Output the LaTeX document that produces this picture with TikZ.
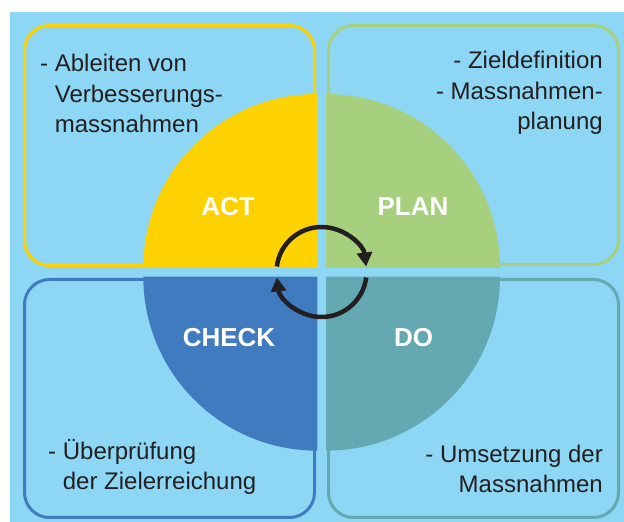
\documentclass[tikz,border=0pt]{standalone}
\usepackage{fontspec}
\setmainfont{Liberation Sans}
\usetikzlibrary{arrows.meta}
\definecolor{bgblue}{HTML}{8DD7F5}
\definecolor{actyellow}{HTML}{FDD200}
\definecolor{plangreen}{HTML}{A6D07E}
\definecolor{checkblue}{HTML}{417BBF}
\definecolor{doteal}{HTML}{64A8B2}
\definecolor{ink}{HTML}{231F20}
\tikzset{
  phase/.style={text=white, font=\fontsize{26}{30}\selectfont\bfseries, inner sep=0pt, anchor=base},
  note/.style={text=ink, font=\fontsize{24}{30.5}\selectfont, inner sep=0pt},
  frame/.style={line width=3pt, rounded corners=25pt},
  turn/.style={line width=4.5pt, draw=ink, -{Triangle[length=14pt,width=15pt]}}
}
\begin{document}
\begin{tikzpicture}[x=1pt,y=1pt]
    \useasboundingbox (0,0) rectangle (624,522);
    \fill[bgblue] (10,0) rectangle (624,510);

    \fill[actyellow] (317.3,254) -- ++(0,174) arc[start angle=90,end angle=180,radius=174] -- cycle;
    \fill[plangreen] (326,254) -- ++(174,0) arc[start angle=0,end angle=90,radius=174] -- cycle;
    \fill[checkblue] (317.3,245.3) -- ++(-174,0) arc[start angle=180,end angle=270,radius=174] -- cycle;
    \fill[doteal] (326,245.3) -- ++(0,-174) arc[start angle=270,end angle=360,radius=174] -- cycle;

    \draw[frame, actyellow] (24.5,256.5) rectangle (314.5,496.5);
    \draw[frame, plangreen] (328.5,257.5) rectangle (618.5,496.5);
    \draw[frame, checkblue] (24.5,4.5) rectangle (314.5,242.5);
    \draw[frame, doteal] (328.5,4.5) rectangle (618.5,242.5);

    \node[phase] (act) at (228,306) {ACT};
    \node[phase] (plan) at (413,306) {PLAN};
    \node[phase] (check) at (229,175) {CHECK};
    \node[phase] (do) at (413.5,175) {DO};

    % base anchor = baseline of the last line
    \node[note, anchor=base west, align=left] (actnote) at (40,389) {- Ableiten von\\\hphantom{- }Verbesserungs-\\\hphantom{- }massnahmen};
    \node[note, anchor=base east, align=right] (plannote) at (603,392) {- Zieldefinition\\- Massnahmen-\\planung};
    \node[note, anchor=base west, align=left] (checknote) at (48,32) {- Überprüfung\\\hphantom{- }der Zielerreichung};
    \node[note, anchor=base east, align=right] (donote) at (603,29) {- Umsetzung der\\Massnahmen};

    \coordinate (hub) at (321.5,250);
    \draw[turn] ([shift={(173:45)}]hub) arc[start angle=173,end angle=7,radius=45];
    \draw[turn] ([shift={(-7:45)}]hub) arc[start angle=-7,end angle=-173,radius=45];
\end{tikzpicture}
\end{document}
